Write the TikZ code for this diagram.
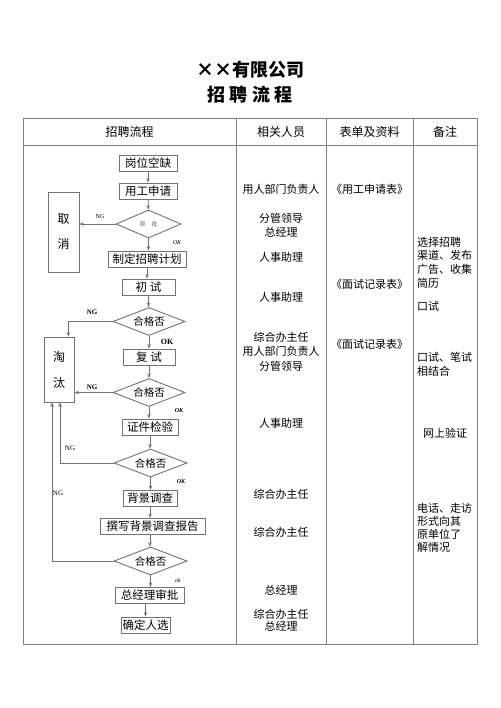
\documentclass[tikz,border=0pt]{standalone}
\usepackage{fontspec}
\setmainfont{Noto Sans CJK SC}
\newfontfamily\lat{Liberation Serif}
\usetikzlibrary{arrows.meta,shapes.geometric,calc}
\begin{document}
\begin{tikzpicture}[x=1pt,y=-1pt,
 line/.style={draw=black!55, line width=0.8pt},
 tline/.style={draw=black!50, line width=0.8pt},
 box/.style={draw=black!55, line width=0.9pt, inner sep=0pt, minimum height=16pt, font=\fontsize{11.5}{12}\selectfont},
 dia/.style={diamond, draw=black!55, line width=0.9pt, inner sep=0pt, aspect=2.5, minimum width=72pt, minimum height=28pt, font=\fontsize{10.5}{11}\selectfont},
 arr/.style={line, -{Stealth[length=4.5pt,width=3.5pt]}},
 lbl/.style={font=\lat\fontsize{7}{8}\selectfont\bfseries, inner sep=0pt},
 cell/.style={font=\fontsize{11}{14}\selectfont, align=center, inner sep=0pt},
 note/.style={font=\fontsize{11}{13.6}\selectfont, align=left, anchor=west, inner sep=0pt},
 head/.style={font=\fontsize{12}{13}\selectfont, inner sep=0pt}
]
\useasboundingbox[fill=white] (0,0) rectangle (500,708);

% title
\node[font=\fontsize{18}{20}\selectfont\bfseries, inner sep=0pt] (t1) at (250,70) {××有限公司};
\node[font=\fontsize{18}{20}\selectfont\bfseries, inner sep=0pt] (t2) at (250,95) {招 聘 流 程};

% table
\draw[tline] (23,118) rectangle (477,644);
\draw[tline] (23,145) -- (477,145);
\draw[tline] (236,118) -- (236,644);
\draw[tline] (326,118) -- (326,644);
\draw[tline] (413,118) -- (413,644);
\node[head] (h1) at (129.5,131.5) {招聘流程};
\node[head] (h2) at (281,131.5) {相关人员};
\node[head] (h3) at (369.5,131.5) {表单及资料};
\node[head] (h4) at (445,131.5) {备注};

% flow nodes
\node[box, minimum width=58pt] (a1) at (148,163.5) {岗位空缺};
\node[box, minimum width=58pt] (a2) at (148,191) {用工申请};
\node[dia, minimum width=65pt] (d1) at (148.5,224) {\fontsize{6}{7}\selectfont\color{black!60}审\quad 批};
\node[box, minimum width=31pt, minimum height=80pt, align=center, font=\fontsize{12}{25}\selectfont] (qx) at (63.5,232) {取\\消};
\node[box, minimum width=78pt] (a3) at (147,259) {制定招聘计划};
\node[box, minimum width=53pt] (a4) at (148.5,287) {初\ 试};
\node[dia] (d2) at (149,321.5) {合格否};
\node[box, minimum width=30pt, minimum height=65pt, align=center, font=\fontsize{12}{26}\selectfont] (tt) at (59,369.5) {淘\\汰};
\node[box, minimum width=52pt] (a5) at (149,357) {复\ 试};
\node[dia] (d3) at (149,392.5) {合格否};
\node[box, minimum width=56pt] (a6) at (150,427) {证件检验};
\node[dia, minimum width=73pt] (d4) at (150.5,463) {合格否};
\node[box, minimum width=54pt] (a7) at (150,498.5) {背景调查};
\node[box, minimum width=105pt] (a8) at (152.5,526.5) {撰写背景调查报告};
\node[dia, minimum width=73pt] (d5) at (150.5,561) {合格否};
\node[box, minimum width=69pt] (a9) at (149.5,595.5) {总经理审批};
\node[box, minimum width=49pt] (a10) at (145.5,625) {确定人选};

% vertical arrows
\draw[arr] (a1) -- (a2);
\draw[arr] (a2) -- (d1);
\draw[arr] (d1) -- (d1 |- a3.north);
\draw[arr] (a3) -- (a3 |- a4.north);
\draw[arr] (a4) -- (a4 |- d2.north);
\draw[arr] (d2) -- (d2 |- a5.north);
\draw[arr] (a5) -- (a5 |- d3.north);
\draw[arr] (d3) -- (d3 |- a6.north);
\draw[arr] (a6) -- (a6 |- d4.north);
\draw[arr] (d4) -- (d4 |- a7.north);
\draw[arr] (a7) -- (a7 |- a8.north);
\draw[arr] (a8.south -| a7) -- (a7 |- d5.north);
\draw[arr] (d5) -- (d5 |- a9.north);
\draw[arr] (a9.south -| a10.north) -- (a10.north);

% NG branches
\draw[arr] (d1.west) -- (qx.east |- d1.west);
\coordinate (c2) at ($(tt.north east)+(-6,0)$);
\draw[arr] (d2.west) -| (c2);
\draw[arr] (d3.west) -- (tt.east |- d3.west);
\coordinate (c4) at ($(tt.south)+(1,0)$);
\draw[arr] (d4.west) -| (c4);
\coordinate (c5) at ($(tt.south)+(-7,0)$);
\draw[arr] (d5.west) -| (c5);

% labels
\node[lbl, font=\lat\fontsize{6}{7}\selectfont] (n1) at (100,217) {NG};
\node[lbl, font=\lat\fontsize{6}{7}\selectfont\itshape] (o1) at (177,243) {OK};
\node[lbl] (n2) at (92,312) {NG};
\node[lbl, font=\lat\fontsize{8}{9}\selectfont\bfseries] (o2) at (167,342) {OK};
\node[lbl] (n3) at (92,387) {NG};
\node[lbl, font=\lat\fontsize{6}{7}\selectfont\bfseries\itshape] (o3) at (179,411) {OK};
\node[lbl, font=\lat\fontsize{7}{8}\selectfont] (n4) at (70,448) {NG};
\node[lbl, font=\lat\fontsize{6}{7}\selectfont\bfseries\itshape] (o4) at (181,482) {OK};
\node[lbl, font=\lat\fontsize{7}{8}\selectfont] (n5) at (58,493) {NG};
\node[lbl, font=\lat\fontsize{6}{7}\selectfont\itshape] (o5) at (178,580) {ok};

% column 2
\node[cell] (p1) at (281,189) {用人部门负责人};
\node[cell] (p2) at (281,225) {分管领导\\总经理};
\node[cell] (p3) at (281,257) {人事助理};
\node[cell] (p4) at (281,297) {人事助理};
\node[cell, font=\fontsize{11}{14.5}\selectfont] (p5) at (281,351.5) {综合办主任\\用人部门负责人\\分管领导};
\node[cell] (p6) at (281,423) {人事助理};
\node[cell] (p7) at (281,494) {综合办主任};
\node[cell] (p8) at (281,532) {综合办主任};
\node[cell] (p9) at (281,590) {总经理};
\node[cell, font=\fontsize{11}{12}\selectfont] (p10) at (281,620) {综合办主任\\总经理};

% column 3
\node[cell] (f1) at (369.5,189) {《用工申请表》};
\node[cell] (f2) at (369.5,284) {《面试记录表》};
\node[cell] (f3) at (369.5,344) {《面试记录表》};

% column 4
\node[note] (r1) at (417,262.5) {选择招聘\\渠道、发布\\广告、收集\\简历};
\node[note] (r2) at (417,306) {口试};
\node[note] (r3) at (417,364) {口试、笔试\\相结合};
\node[note] (r4) at (423,433) {网上验证};
\node[note, font=\fontsize{11}{13}\selectfont] (r5) at (417,527.5) {电话、走访\\形式向其\\原单位了\\解情况};
\end{tikzpicture}
\end{document}
